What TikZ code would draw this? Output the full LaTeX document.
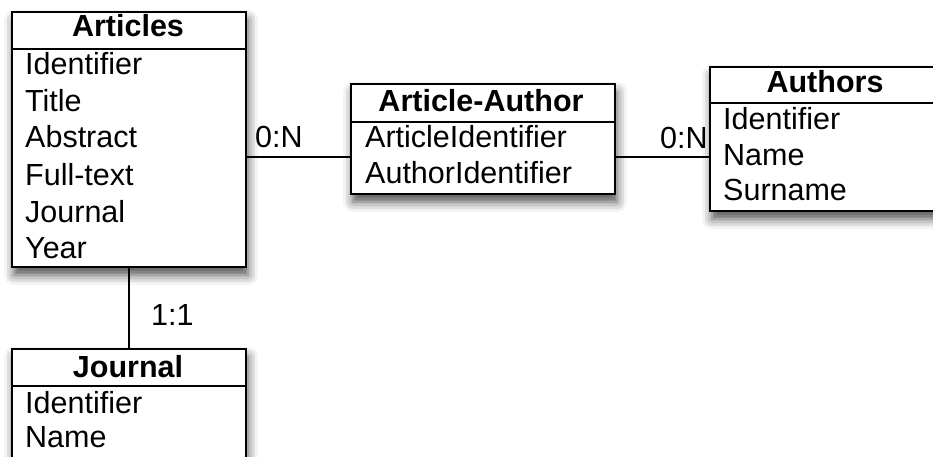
\documentclass[tikz,border=0pt]{standalone}
\usepackage{fontspec}
\setmainfont{Liberation Sans}
\usetikzlibrary{shadows.blur}
\begin{document}
\begin{tikzpicture}[x=1pt,y=-1pt,
  entity/.style={draw=black, line width=2.4pt, fill=white, inner sep=0pt,
    blur shadow={shadow xshift=2pt, shadow yshift=-8pt,
                 shadow blur radius=10pt, shadow opacity=70}},
  head/.style={anchor=base, inner sep=0pt, font=\fontsize{30.5}{36}\selectfont\bfseries},
  attr/.style={anchor=base west, inner sep=0pt, font=\fontsize{30.5}{36}\selectfont},
  card/.style={anchor=base west, inner sep=0pt, font=\fontsize{30.5}{36}\selectfont},
  sep/.style={line width=2.2pt},
  link/.style={line width=2pt}]
\useasboundingbox (0,0) rectangle (933,457);

% Articles table
\node[entity, minimum width=234pt, minimum height=255pt] (articles) at (129,139.5) {};
\node[head] (articlesH) at (128,37) {Articles};
\draw[sep] (articles.west |- 0,49) -- (articles.east |- 0,49);
\node[attr] (art1) at (25,75)  {Identifier};
\node[attr] (art2) at (25,112) {Title};
\node[attr] (art3) at (25,148) {Abstract};
\node[attr] (art4) at (25,185) {Full-text};
\node[attr] (art5) at (25,222) {Journal};
\node[attr] (art6) at (25,258) {Year};

% Article-Author link table
\node[entity, minimum width=264pt, minimum height=110pt] (aa) at (483,139) {};
\node[head] (aaH) at (481,112) {Article-Author};
\draw[sep] (aa.west |- 0,122) -- (aa.east |- 0,122);
\node[attr] (aa1) at (365,148) {ArticleIdentifier};
\node[attr] (aa2) at (365,183) {AuthorIdentifier};

% Authors table
\node[entity, minimum width=230pt, minimum height=144pt] (authors) at (825,139) {};
\node[head] (authorsH) at (825,93) {Authors};
\draw[sep] (authors.west |- 0,103) -- (authors.east |- 0,103);
\node[attr] (au1) at (723,130) {Identifier};
\node[attr] (au2) at (723,165) {Name};
\node[attr] (au3) at (723,200) {Surname};

% Journal table
\node[entity, minimum width=234pt, minimum height=131pt] (journal) at (129,414.5) {};
\node[head] (journalH) at (128,377) {Journal};
\draw[sep] (journal.west |- 0,386) -- (journal.east |- 0,386);
\node[attr] (jo1) at (25,413) {Identifier};
\node[attr] (jo2) at (25,447) {Name};

% Relationships
\draw[link] ([yshift=-18.5pt]aa.west) -- ([yshift=-18.5pt]aa.west -| articles.east);
\draw[link] ([yshift=-18pt]aa.east) -- ([yshift=-18pt]aa.east -| authors.west);
\draw[link] (articles.south) -- (journal.north);

% Cardinalities
\node[card] (c1) at (255,148) {0:N};
\node[card] (c2) at (660,149) {0:N};
\node[card] (c3) at (151,325) {1:1};
\end{tikzpicture}
\end{document}
